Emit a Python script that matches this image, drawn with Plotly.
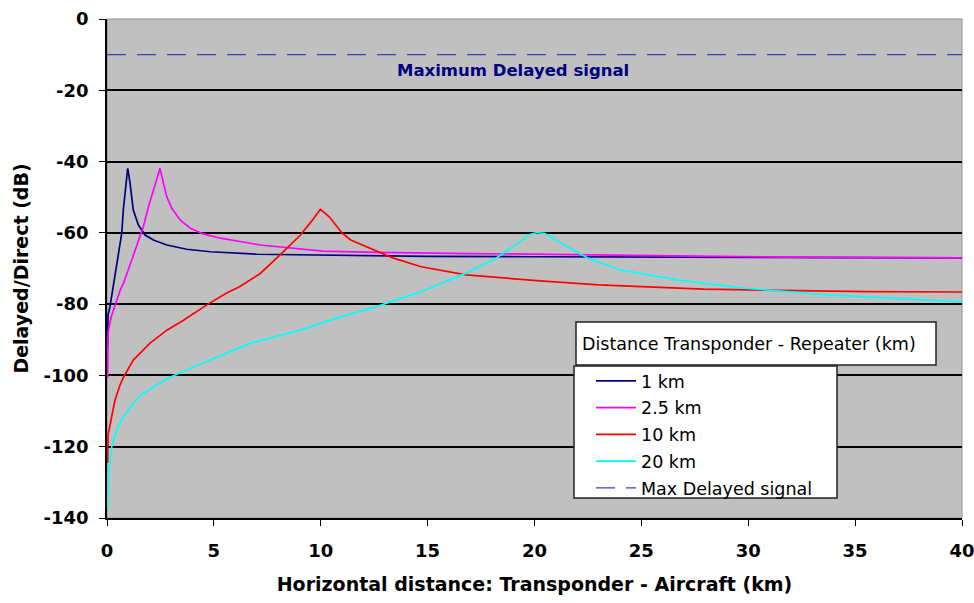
import plotly.graph_objects as go

# Horizontal distance transponder-aircraft (km) and delayed/direct ratio (dB)
# for each transponder-repeater distance
x_1km = [0.03, 0.05, 0.14, 0.375, 0.53, 0.69, 0.77, 0.89, 0.97, 1.08, 1.23, 1.47, 1.78,
         2.17, 2.8, 3.73, 4.83, 7.0, 10, 15, 20, 30, 40]
y_1km = [-92, -83, -80.7, -72.3, -66.7, -60.1, -53.1, -46.1, -41.9, -46.1, -53.6, -57.8, -60.6,
         -62, -63.4, -64.6, -65.3, -66.0, -66.3, -66.6, -66.7, -66.9, -67]

x_2_5km = [0.03, 0.05, 0.2, 0.375, 0.61, 0.77, 1.16, 1.47, 1.7, 1.94, 2.17, 2.36, 2.48, 2.64,
           2.8, 3.03, 3.42, 3.9, 4.5, 5.3, 7.17, 10.1, 12.6, 17, 22, 27, 33, 40]
y_2_5km = [-100.7, -88, -83.5, -80.2, -76.2, -74.2, -67.6, -62, -58.3, -52.7, -48, -43.8, -41.9, -46.1,
           -49.9, -53.1, -56.4, -58.7, -60.3, -61.5, -63.4, -65.1, -65.5, -65.8, -66.2, -66.6, -66.9, -67]

x_10km = [0.03, 0.05, 0.22, 0.375, 0.61, 0.77, 1.23, 2.0, 2.8, 3.58, 4.67, 5.6, 6.2, 7.17, 8.1, 9.05,
          9.6, 9.98, 10.4, 11.0, 11.4, 12.3, 13.4, 14.7, 16.8, 20.1, 23, 27.9, 31.8, 35.6, 40]
y_10km = [-124.6, -116.7, -111.6, -106.9, -102.7, -100.5, -95.7, -91, -87.3, -84.5, -80.2, -76.9, -75.1, -71.4, -66.2,
          -60.6, -56.5, -53.4, -55.5, -60.1, -62, -64.3, -67.1, -69.5, -71.8, -73.4, -74.6, -75.8, -76.2, -76.5, -76.6]

x_20km = [0.03, 0.05, 0.22, 0.45, 0.77, 1.23, 1.7, 2.33, 2.95, 3.9, 4.83, 5.77, 6.7, 9.05, 10.45,
          12.6, 14.7, 16.8, 18.2, 19.2, 19.7, 20.1, 20.5, 21, 22.5, 24, 26.9, 29.8, 33.7, 37.6, 40]
y_20km = [-137.2, -128.4, -120, -115.3, -111.6, -107.8, -105, -102.7, -100.5, -98, -95.7, -93.3, -91, -87.3, -84.5,
          -80.7, -76.5, -71.3, -67.1, -63, -60.6, -59.9, -60.2, -62, -67.1, -70.4, -73.4, -75.5, -77.4, -78.6, -79.4]

max_x = [0, 40]
max_delayed = [-10, -10]

series_names = ["1 km", "2.5 km", "10 km", "20 km"]
series_colors = ["#000080", "#ff00ff", "#ff0000", "#00ffff"]
series_x = [x_1km, x_2_5km, x_10km, x_20km]
series_y = [y_1km, y_2_5km, y_10km, y_20km]

x_ticks = [0, 5, 10, 15, 20, 25, 30, 35, 40]
y_ticks = [0, -20, -40, -60, -80, -100, -120, -140]
y_tick_text = ["0", "-20", "-40", "-60", "-80", "-100", "-120", "-140"]

# plot area in pixels
L, R, T, B = 107, 962, 19, 518
W, H = R - L, B - T


def px(x):
    return (x - L) / W


def py(y):
    return (B - y) / H


fig = go.Figure()
for i, (name, col, xs, ys) in enumerate(zip(series_names, series_colors, series_x, series_y)):
    fig.add_trace(go.Scatter(x=xs, y=ys, mode="lines", name=name,
                             line=dict(color=col, width=1.7),
                             legendgroup=f"g{i}"))
fig.add_trace(go.Scatter(x=max_x, y=max_delayed, mode="lines", name="Max Delayed signal",
                         line=dict(color="#4040b0", width=1.3, dash="19px,11px"),
                         legendgroup="g4"))

# plot-area frame
fig.add_shape(type="rect", xref="paper", yref="paper", x0=0, x1=1, y0=0, y1=1,
              line=dict(color="#909090", width=1), layer="below")

# Legend boxes: title box and entries box
fig.add_shape(type="rect", xref="paper", yref="paper",
              x0=px(576), x1=px(936), y0=py(365), y1=py(322),
              fillcolor="white", line=dict(color="#222222", width=1.5), layer="above")
fig.add_shape(type="rect", xref="paper", yref="paper",
              x0=px(574), x1=px(837), y0=py(498), y1=py(366),
              fillcolor="white", line=dict(color="#222222", width=1.5), layer="above")
fig.add_annotation(text="Distance Transponder - Repeater (km)", xref="paper", yref="paper",
                   x=px(749), y=py(344), xanchor="center", yanchor="middle",
                   showarrow=False, font=dict(family="DejaVu Sans", size=17.5, color="black"))

fig.add_annotation(text="<b>Maximum Delayed signal</b>", x=19.0, y=-14.5,
                   showarrow=False, font=dict(family="DejaVu Sans", size=16.5, color="#000080"))

fig.update_layout(
    width=974, height=603, autosize=False,
    margin=dict(l=L, r=974 - R, t=T, b=603 - B, pad=0),
    paper_bgcolor="white", plot_bgcolor="#c0c0c0",
    showlegend=True,
    legend=dict(x=px(591), y=py(363), xanchor="left", yanchor="top",
                bgcolor="rgba(0,0,0,0)", borderwidth=0, tracegroupgap=1, itemwidth=40,
                font=dict(family="DejaVu Sans", size=17.5, color="black")),
    font=dict(family="DejaVu Sans", color="black"),
)
fig.update_xaxes(range=[0, 40], tickvals=x_ticks, showgrid=False, zeroline=False,
                 showline=True, linecolor="black", linewidth=1.5, automargin=False,
                 ticks="outside", ticklen=6, tickcolor="black",
                 ticklabelstandoff=10, ticklabeloverflow="allow",
                 tickfont=dict(family="DejaVu Sans", size=18, weight="bold"),
                 title=dict(text="Horizontal distance: Transponder - Aircraft (km)",
                            font=dict(family="DejaVu Sans", size=19, weight="bold"),
                            standoff=17))
fig.update_yaxes(range=[-140, 0], tickvals=y_ticks, ticktext=y_tick_text,
                 showgrid=True, gridcolor="black", gridwidth=1.5,
                 zeroline=False, showline=True, linecolor="black", linewidth=1.5, automargin=False,
                 ticks="outside", ticklen=6, tickcolor="black",
                 ticklabelstandoff=7, ticklabeloverflow="allow",
                 tickfont=dict(family="DejaVu Sans", size=18, weight="bold"),
                 title=dict(text="Delayed/Direct (dB)",
                            font=dict(family="DejaVu Sans", size=19, weight="bold"),
                            standoff=10))

fig.write_html("out.html")
